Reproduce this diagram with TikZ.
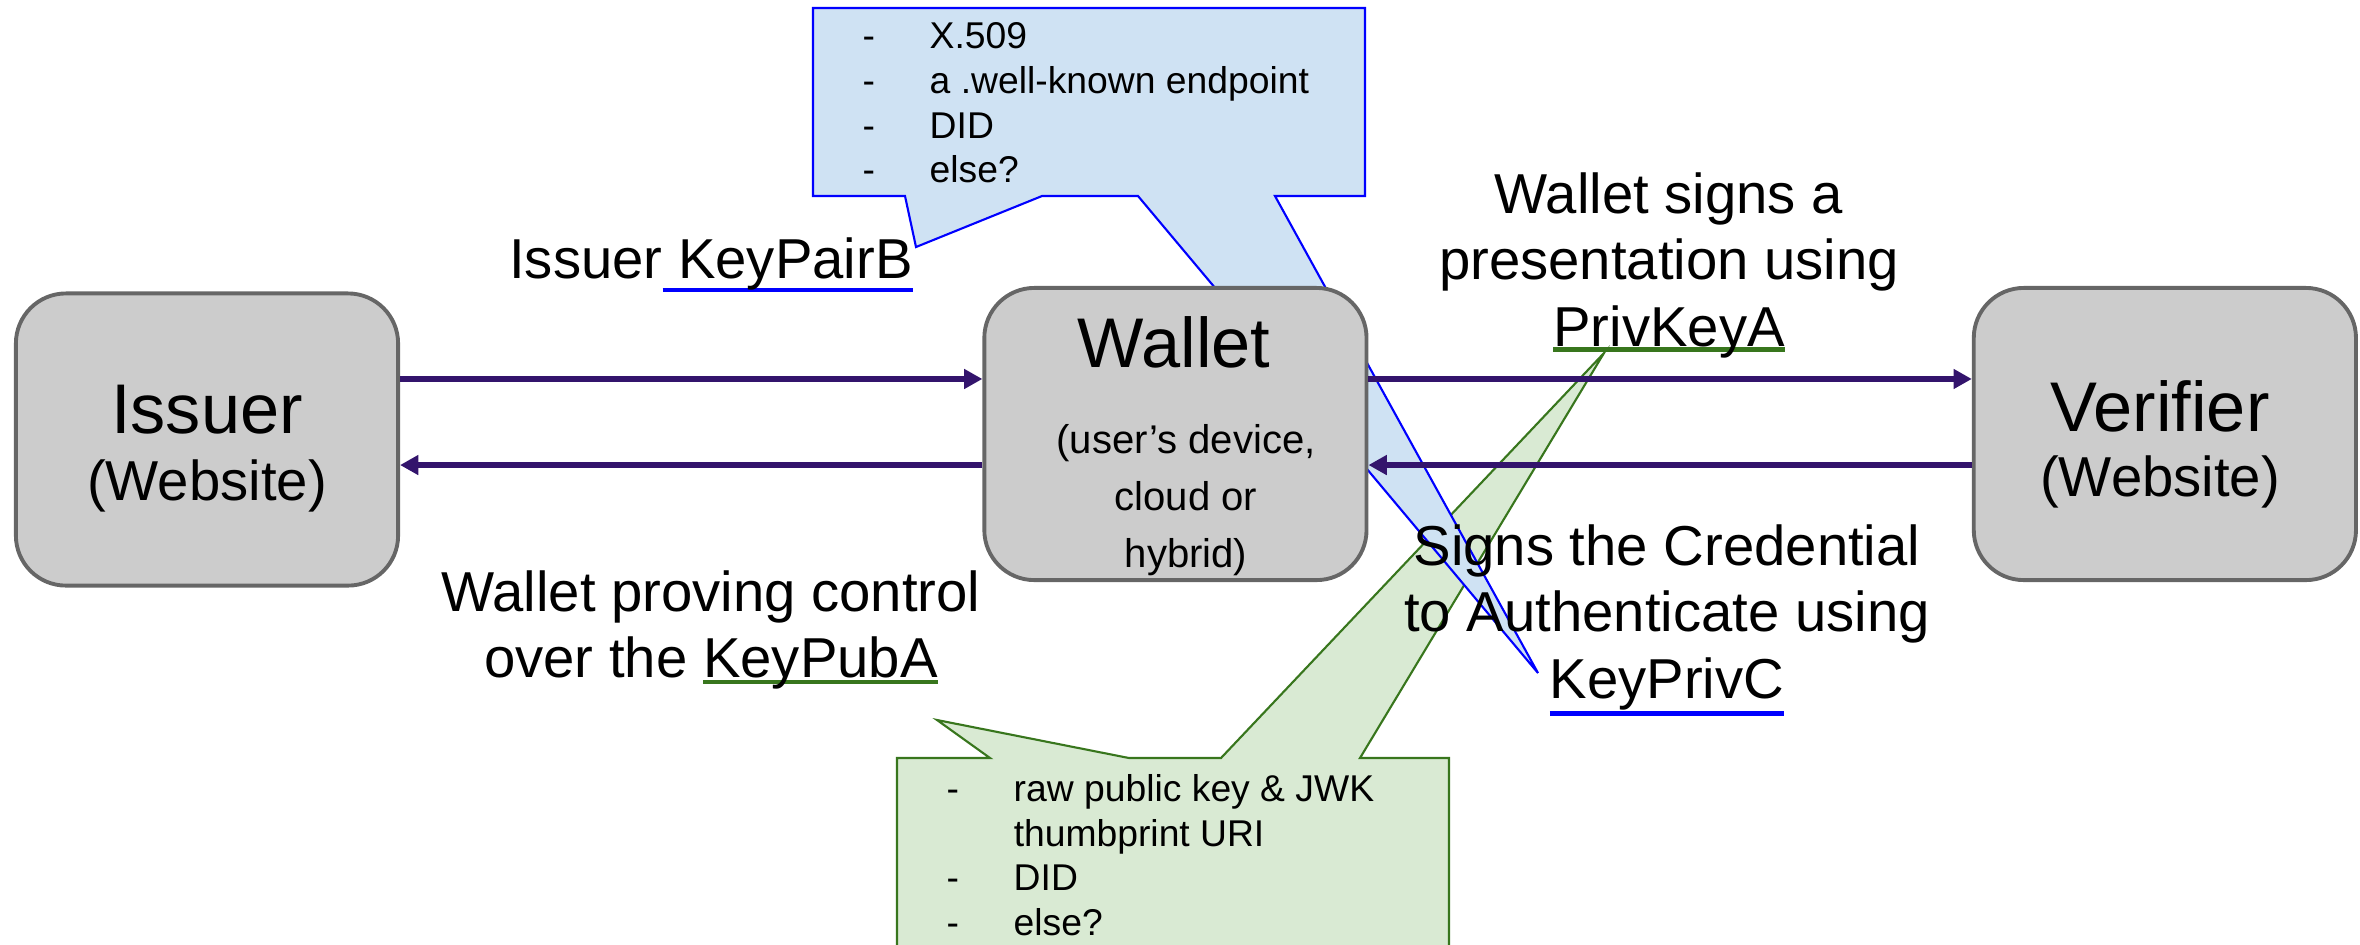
\documentclass[tikz,border=0pt]{standalone}
\usepackage{fontspec}
\setmainfont{Liberation Sans}
\usetikzlibrary{arrows.meta,positioning}

\definecolor{boxfill}{HTML}{CCCCCC}
\definecolor{boxline}{HTML}{666666}
\definecolor{flow}{HTML}{33146C}
\definecolor{bubbleblue}{HTML}{CFE2F3}
\definecolor{bubblegreen}{HTML}{D9EAD3}
\definecolor{ulblue}{HTML}{0000FF}
\definecolor{ulgreen}{HTML}{38761D}

\newlength\kulw
\newcommand\keyul[3]{\settowidth\kulw{#3}\rlap{\textcolor{#1}{\rule[#2]{\kulw}{1.3pt}}}#3}
\newcommand\itemdash{\makebox[0.67cm][l]{-}}
\newcommand\itemgap{\hspace*{0.67cm}}

\begin{document}
\begin{tikzpicture}[x=0.01cm, y=-0.01cm,
  box/.style={rectangle, draw=boxline, fill=boxfill, line width=1.1pt, rounded corners=5mm, minimum width=3.82cm, minimum height=2.92cm},
  boxtitle/.style={inner sep=0pt, font=\fontsize{20}{24}\selectfont},
  boxsub/.style={inner sep=0pt, font=\fontsize{16}{19}\selectfont},
  walletsub/.style={inner sep=0pt, align=center, font=\fontsize{11.4}{16.2}\selectfont},
  keynote/.style={inner sep=0pt, align=center, font=\fontsize{16}{18.9}\selectfont},
  bubbletext/.style={inner sep=0pt, align=left, anchor=west, font=\fontsize{10.6}{12.7}\selectfont},
  bubble/.style={line width=0.6pt, line join=miter},
  arrow/.style={-{Triangle[length=5.2pt,width=5.4pt]}, draw=flow, line width=1.8pt}]

\useasboundingbox (0,0) rectangle (2360,944);
\clip (0,0) rectangle (2360,944);

% callouts
\draw[bubble, draw=ulgreen, fill=bubblegreen] (897,758) -- (990,758) -- (937,720) -- (1129,758) -- (1221,758) -- (1604,353) -- (1360,758) -- (1449,758) -- (1449,960) -- (897,960) -- cycle;
\draw[bubble, draw=ulblue, fill=bubbleblue] (813,8) -- (1365,8) -- (1365,196) -- (1275,196) -- (1538,673) -- (1138,196) -- (1042,196) -- (916,247) -- (905,196) -- (813,196) -- cycle;

\node[bubbletext] (issuerkeys) at (862,103) {\itemdash X.509\\\itemdash a .well-known endpoint\\\itemdash DID\\\itemdash else?};
\node[bubbletext] (walletkeys) at (946,855) {\itemdash raw public key \& JWK\\\itemgap thumbprint URI\\\itemdash DID\\\itemdash else?};

\node[box] (issuer) at (207,439.5) {};
\node[box, right=5.82cm of issuer, yshift=0.055cm] (wallet) {};
\node[box, right=6.03cm of wallet] (verifier) {};

\node[boxtitle] (issuername) at (207,410) {Issuer};
\node[boxsub] (issuerweb) at (207,486) {(Website)};
\node[boxtitle] (walletname) at (1174,342) {Wallet};
\node[walletsub] (walletkind) at (1186,500) {(user’s device,\\cloud or\\hybrid)};
\node[boxtitle] (verifiername) at (2160,406) {Verifier};
\node[boxsub] (verifierweb) at (2160,482) {(Website)};

\draw[arrow] ([yshift=5.5mm]wallet.west -| issuer.east) -- ([yshift=5.5mm]wallet.west);
\draw[arrow] ([yshift=-3.1mm]wallet.west) -- ([yshift=-3.1mm]wallet.west -| issuer.east);
\draw[arrow] ([yshift=5.5mm]wallet.east) -- ([yshift=5.5mm]wallet.east -| verifier.west);
\draw[arrow] ([yshift=-3.1mm]wallet.east -| verifier.west) -- ([yshift=-3.1mm]wallet.east);

\node[keynote] (issuerkey) at (711,265) {Issuer\keyul{ulblue}{-3.9pt}{\ KeyPairB}};
\node[keynote] (walletproof) at (711,630) {Wallet proving control\\over the \keyul{ulgreen}{-1.9pt}{KeyPubA}};
\node[keynote] (walletsigns) at (1669,265) {Wallet signs a\\presentation using\\\keyul{ulgreen}{-1.6pt}{PrivKeyA}};
\node[keynote] (issuersigns) at (1667,620) {Signs the Credential\\to Authenticate using\\\keyul{ulblue}{-5pt}{KeyPrivC}};

\end{tikzpicture}
\end{document}
